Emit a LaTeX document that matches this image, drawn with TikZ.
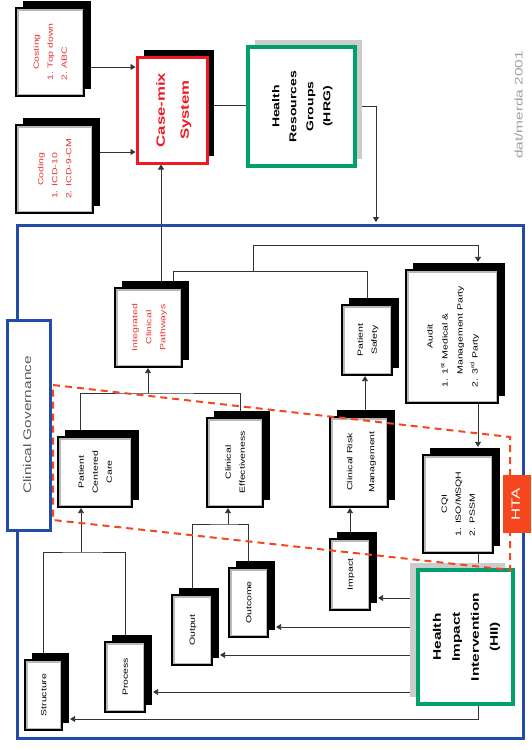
\documentclass[tikz,border=0pt]{standalone}
\usepackage{fontspec}
\setmainfont{Liberation Sans}
\usepackage{graphicx}
\usetikzlibrary{arrows.meta, shadows, backgrounds}
\definecolor{govblue}{RGB}{35, 75, 170}
\definecolor{hrggreen}{RGB}{0, 160, 110}
\definecolor{mixred}{RGB}{240, 25, 35}
\definecolor{htaorange}{RGB}{245, 70, 30}
\definecolor{labelred}{RGB}{235, 50, 50}
\newcommand{\vtext}[2][c]{\rotatebox{90}{\scalebox{1.4}[1]{\begin{tabular}{@{}#1@{}}#2\end{tabular}}}}

\begin{document}
\begin{tikzpicture}[x=1pt, y=-1pt,
  sbox/.style={draw=black, line width=2.2pt, fill=white, inner sep=1pt,
    font=\fontsize{7.5}{14}\selectfont,
    shadow xshift=7pt, shadow yshift=7pt, general shadow={fill=black},
    path picture={\draw[gray!55, line width=5pt] (path picture bounding box.south west) rectangle (path picture bounding box.north east);}},
  gbox/.style={draw=hrggreen, line width=3.5pt, fill=white, inner sep=1pt,
    font=\bfseries\fontsize{10}{17}\selectfont},
  link/.style={draw=black!80, line width=0.8pt},
  arr/.style={link, -{Triangle[width=6pt, length=5pt]}},
]
\useasboundingbox (0,0) rectangle (532,750);
\node[draw=govblue, line width=3pt, minimum width=506pt, minimum height=513pt] (frame) at (270,481.5) {};

% case-mix part
\node[sbox, text=labelred, minimum width=68pt, minimum height=88pt] (cost) at (50,52)
  {\vtext[l]{\multicolumn{1}{@{}c@{}}{Costing}\\1. Top down\\2. ABC}};
\node[sbox, text=labelred, minimum width=77pt, minimum height=88pt] (code) at (54.5,169)
  {\vtext[l]{\multicolumn{1}{@{}c@{}}{Coding}\\1. ICD-10\\2. ICD-9-CM}};
\node[draw=mixred, line width=3pt, fill=white, text=mixred, inner sep=1pt,
  font=\bfseries\fontsize{12}{24}\selectfont,
  shadow xshift=7pt, shadow yshift=7pt, general shadow={fill=black},
  minimum width=70pt, minimum height=106pt] (casemix) at (172,110) {\vtext{Case-mix\\System}};
\node[gbox, shadow xshift=7pt, shadow yshift=7pt, general shadow={fill=gray!40},
  minimum width=107pt, minimum height=119pt] (hrg) at (301.5,106.5)
  {\vtext{Health\\Resources\\Groups\\(HRG)}};
\node[text=gray!75, font=\fontsize{11}{13}\selectfont] (stamp) at (520,105) {\vtext{dat/merda 2001}};

% clinical governance
\node[draw=govblue, line width=3pt, fill=white, text=black!65,
  font=\fontsize{11}{13}\selectfont, minimum width=43pt, minimum height=210pt] (govern) at (28.5,425)
  {\vtext{Clinical Governance}};
\node[sbox, text=labelred, minimum width=67pt, minimum height=79pt] (icp) at (148.5,327.5)
  {\vtext{Integrated\\Clinical\\Pathways}};
\node[sbox, minimum width=50pt, minimum height=70pt] (psafe) at (367,340) {\vtext{Patient\\Safety}};
\node[sbox, minimum width=92pt, minimum height=133pt, font=\fontsize{7.5}{15}\selectfont] (audit) at (452,336.5)
  {\vtext[l]{\multicolumn{1}{@{}c@{}}{Audit}\\1. 1\textsuperscript{st} Medical \&\\\phantom{1. }Management Party\\2. 3\textsuperscript{rd} Party}};
\node[sbox, minimum width=74pt, minimum height=70pt] (pcc) at (95,472) {\vtext{Patient\\Centered\\Care}};
\node[sbox, minimum width=56pt, minimum height=89pt] (ceff) at (235,462.5) {\vtext{Clinical\\Effectiveness}};
\node[sbox, minimum width=58pt, minimum height=90pt, font=\fontsize{7.5}{22}\selectfont] (crm) at (359,462)
  {\vtext{Clinical Risk\\Management}};
\node[sbox, minimum width=70pt, minimum height=98pt] (cqi) at (458,504)
  {\vtext[l]{\multicolumn{1}{@{}c@{}}{CQI}\\1. ISO/MSQH\\2. PSSM}};

% structure, process, output, outcome, impact
\node[sbox, minimum width=37pt, minimum height=70pt] (struct) at (43.5,695) {\vtext{Structure}};
\node[sbox, minimum width=40pt, minimum height=70pt] (proc) at (125,677) {\vtext{Process}};
\node[sbox, minimum width=40pt, minimum height=70pt] (outp) at (192,630) {\vtext{Output}};
\node[sbox, minimum width=39pt, minimum height=69pt] (outc) at (248.5,602.5) {\vtext{Outcome}};
\node[sbox, minimum width=40pt, minimum height=71pt] (impact) at (350,574.5) {\vtext{Impact}};
\node[gbox, font=\bfseries\fontsize{11}{19}\selectfont,
  shadow xshift=-8pt, shadow yshift=7pt, general shadow={fill=gray!40},
  minimum width=95pt, minimum height=134pt] (hii) at (465.5,637)
  {\vtext{Health\\Impact\\Intervention\\(HII)}};

\coordinate (split) at (253,272);
\coordinate (colR) at (478,0);
\coordinate (joinPC) at (148,393);
\coordinate (joinOE) at (228,524);
\coordinate (joinSP) at (81,552);

\begin{pgfonlayer}{background}
  \draw[arr] ([yshift=-15pt]cost.east) -- ([yshift=-15pt]cost.east -| casemix.west);
  \draw[arr] ([yshift=17pt]code.east) -- ([yshift=17pt]code.east -| casemix.west);
  \draw[link] ([yshift=5pt]casemix.east) -- ([yshift=5pt]casemix.east -| hrg.west);
  \draw[arr, shorten >=1.5pt] (hrg.east) -| ([xshift=106pt]frame.north);
  \draw[arr] ([xshift=12.5pt]icp.north) -- ([xshift=12.5pt]icp.north |- casemix.south);
  \draw[link] ([xshift=24.5pt]icp.north) -- ++(0,-16) -| (psafe.north);
  \draw[arr, shorten >=7pt] (split) -- ++(0,-27) -| (audit.north -| colR);
  \draw[arr, shorten >=7pt] (audit.south -| colR) -- (cqi.north -| colR);
  \draw[link] (cqi.south -| colR) -- (hii.north -| colR);
  \draw[arr, shorten >=7pt] (hii.south -| colR) |- ([yshift=-24pt]struct.east);
  \draw[arr, shorten >=7pt] ([yshift=-15pt]proc.east -| hii.west) -- ([yshift=-15pt]proc.east);
  \draw[arr, shorten >=7pt] ([yshift=-25pt]outp.east -| hii.west) -- ([yshift=-25pt]outp.east);
  \draw[arr, shorten >=7pt] ([yshift=-24.5pt]outc.east -| hii.west) -- ([yshift=-24.5pt]outc.east);
  \draw[arr, shorten >=7pt] ([yshift=-23.5pt]impact.east -| hii.west) -- ([yshift=-23.5pt]impact.east);
  \draw[arr] (impact.north) -- (impact.north |- crm.south);
  \draw[arr] ([xshift=6pt]crm.north) -- ([xshift=6pt]crm.north |- psafe.south);
  \draw[link] (outp.north) |- (joinOE) -| (outc.north);
  \draw[arr] (joinOE) -- (joinOE |- ceff.south);
  \draw[link] (struct.north) |- (joinSP) -| (proc.north);
  \draw[arr] (joinSP) -- (joinSP |- pcc.south);
  \draw[link] ([xshift=-15pt]pcc.north) |- (joinPC) -| ([xshift=5pt]ceff.north);
  \draw[arr] (joinPC) -- (joinPC |- icp.south);
\end{pgfonlayer}

% HTA zone
\draw[htaorange, line width=2pt, dash pattern=on 7pt off 5pt] (53,385) -- (510,437) -- (510,570) -- (53,520) -- cycle;
\node[fill=htaorange, text=white, inner sep=0pt, font=\fontsize{12}{14}\selectfont,
  minimum width=28pt, minimum height=58pt] (hta) at (517,504) {\vtext{HTA}};
\end{tikzpicture}
\end{document}
